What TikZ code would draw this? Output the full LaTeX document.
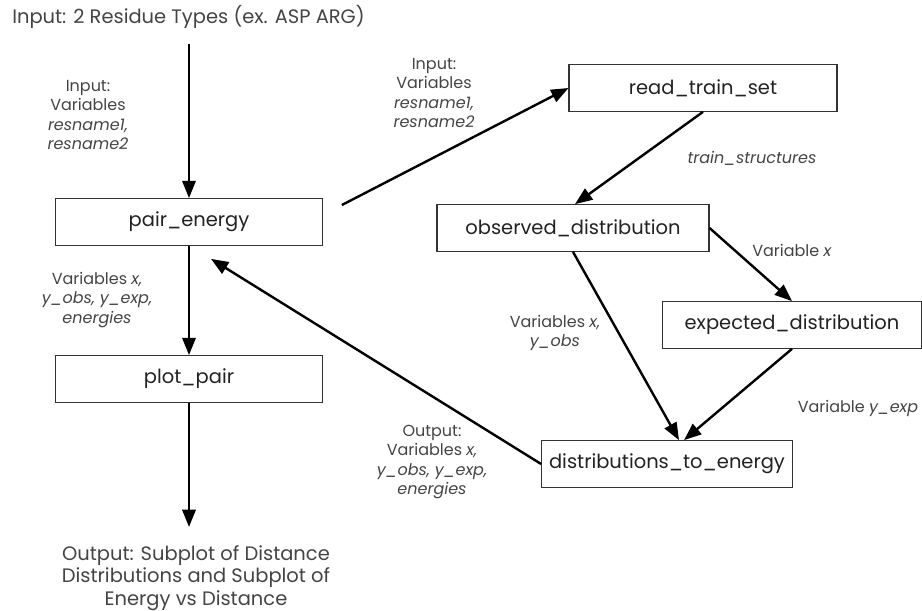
\documentclass[tikz,border=0pt]{standalone}
\usepackage{fontspec}
\setmainfont{Poppins}
\usepackage{tikz}
\usetikzlibrary{arrows.meta,positioning,calc}
\definecolor{boxline}{HTML}{333333}
\definecolor{boxtext}{HTML}{222222}
\definecolor{graytext}{HTML}{444444}

\begin{document}
\begin{tikzpicture}[
  x=0.75pt, y=-0.75pt,
  box/.style={
    draw=boxline, line width=0.8pt, fill=white, text=boxtext,
    minimum height=35pt, inner sep=2pt, font=\fontsize{14.6}{17}\selectfont
  },
  lbl/.style={
    text=graytext, align=center, inner sep=0pt,
    font=\fontsize{12}{14.6}\selectfont
  },
  big/.style={
    lbl, font=\fontsize{14.6}{16.9}\selectfont
  },
  arrow/.style={-{Triangle[length=13pt,width=10pt]}, line width=1.8pt, color=black}
]
  \useasboundingbox (0,0) rectangle (922,611);
  % main column
  \node[big, anchor=west] (title) at (12,17) {Input: 2 Residue Types (ex. ASP ARG)};
  \node[box, minimum width=200pt] (pair) at (189,222) {pair\_energy};
  \node[box, minimum width=200pt] (plot) at (189,379) {plot\_pair};
  \node[big] (result) at (196,578) {Output: Subplot of Distance\\Distributions and Subplot of\\Energy vs Distance};
  \coordinate (intop) at (189,44);
  \coordinate (outend) at (189,527);
  % right side
  \node[box, minimum width=201pt] (read) at (703,88) {read\_train\_set};
  \node[box, minimum width=204pt] (obs) at (573,228) {observed\_distribution};
  \node[box, minimum width=194pt] (exp) at (792,325) {expected\_distribution};
  \node[box, minimum width=188pt] (dist) at (667,464) {distributions\_to\_energy};
  % labels
  \node[lbl] (lblin) at (88,115) {Input:\\Variables\\\textit{resname1,}\\\textit{resname2}};
  \node[lbl] (lblpair) at (97,300) {Variables \textit{x,}\\\textit{y\_obs, y\_exp,}\\\textit{energies}};
  \node[lbl] (lblread) at (434,93) {Input:\\Variables\\\textit{resname1,}\\\textit{resname2}};
  \node[lbl] (lbltrain) at (752,158) {\textit{train\_structures}};
  \node[lbl] (lblx) at (792,250) {Variable \textit{x}};
  \node[lbl] (lblobs) at (555,333) {Variables \textit{x,}\\\textit{y\_obs}};
  \node[lbl] (lblexp) at (858,408) {Variable \textit{y\_exp}};
  \node[lbl] (lblout) at (432,462) {Output:\\Variables \textit{x,}\\\textit{y\_obs, y\_exp,}\\\textit{energies}};
  % connectors
  \draw[arrow] (intop) -- (pair.north);
  \draw[arrow] (pair.south) -- (plot.north);
  \draw[arrow] (plot.south) -- (outend);
  \draw[arrow] ($(pair.east)+(19,-17)$) -- (read.west);
  \draw[arrow] (read.south) -- ($(obs.north)+(2,0)$);
  \draw[arrow] (obs.east) -- (exp.north);
  \draw[arrow] (obs.south) -- ($(dist.north)+(12,0)$);
  \draw[arrow] (exp.south) -- ($(dist.north)+(17,0)$);
  \draw[arrow] (dist.west) -- ($(pair.south)+(22,13)$);
\end{tikzpicture}
\end{document}
